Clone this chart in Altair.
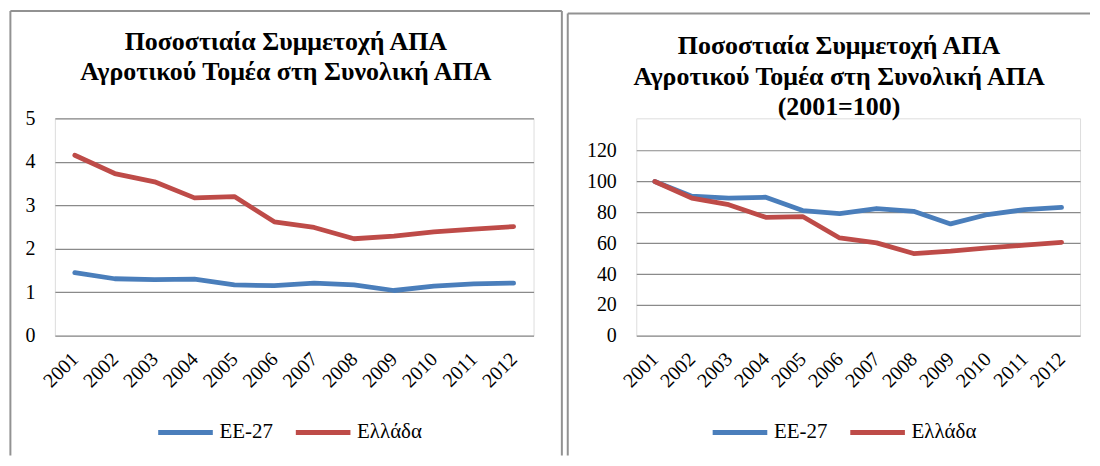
import altair as alt
import pandas as pd

# ---------------- data ----------------
years = ["2001", "2002", "2003", "2004", "2005", "2006",
         "2007", "2008", "2009", "2010", "2011", "2012"]
series_names = ["ΕΕ-27", "Ελλάδα"]
series_colors = ["#4A7EBB", "#BE4B48"]

# left panel: share of agricultural GVA in total GVA (%)
eu_share = [1.45, 1.31, 1.29, 1.30, 1.17, 1.15, 1.21, 1.17, 1.04, 1.14, 1.19, 1.21]
gr_share = [4.15, 3.73, 3.54, 3.17, 3.20, 2.62, 2.49, 2.23, 2.29, 2.39, 2.45, 2.51]

# right panel: same, index 2001=100
eu_index = [100, 90.5, 89.3, 89.8, 81.2, 79.2, 82.5, 80.7, 72.5, 78.6, 81.8, 83.3]
gr_index = [100, 89.3, 85.0, 76.8, 77.3, 63.4, 60.2, 53.3, 54.8, 57.0, 58.7, 60.6]

left_ticks = [0, 1, 2, 3, 4, 5]
right_ticks = [0, 20, 40, 60, 80, 100, 120]

title_left = ["Ποσοστιαία Συμμετοχή ΑΠΑ", "Αγροτικού Τομέα στη Συνολική ΑΠΑ"]
title_right = ["Ποσοστιαία Συμμετοχή ΑΠΑ", "Αγροτικού Τομέα στη Συνολική ΑΠΑ", "(2001=100)"]

FONT = "Liberation Serif"
GRID = "#8A8A8A"
FRAME = "#929292"


def frame_layer(left, top, right, bottom, draw_right):
    base = alt.Chart(alt.Data(values=[{}]))
    rules = [
        base.mark_rule(color=FRAME, strokeWidth=2).encode(
            x=alt.value(left), x2=alt.value(right), y=alt.value(top)),
        base.mark_rule(color=FRAME, strokeWidth=2).encode(
            x=alt.value(left), y=alt.value(top), y2=alt.value(bottom)),
    ]
    if draw_right:
        rules.append(base.mark_rule(color=FRAME, strokeWidth=2).encode(
            x=alt.value(right), y=alt.value(top), y2=alt.value(bottom)))
    return rules


def title_layer(lines, cx, baseline_y):
    return alt.Chart(alt.Data(values=[{}])).mark_text(
        font=FONT, fontSize=26, fontWeight="bold", color="black",
        align="center", baseline="alphabetic", lineHeight=30.5
    ).encode(x=alt.value(cx), y=alt.value(baseline_y), text=alt.value(lines))


def panel(eu_vals, gr_vals, ticks, ymax, width, legend_x, extras):
    df = pd.DataFrame({
        "year": years * 2,
        "series": [series_names[0]] * len(years) + [series_names[1]] * len(years),
        "value": eu_vals + gr_vals,
    })
    lines = alt.Chart(df).mark_line(
        strokeWidth=4.8, strokeCap="round", strokeJoin="round"
    ).encode(
        x=alt.X("year:O", sort=years, title=None,
                scale=alt.Scale(type="point", padding=0.5),
                axis=alt.Axis(labelAngle=-45, labelAlign="right", labelBaseline="middle",
                              labelPadding=20, ticks=False, domain=False, grid=False,
                              labelFont=FONT, labelFontSize=20, labelColor="black")),
        y=alt.Y("value:Q", title=None,
                scale=alt.Scale(domain=[0, ymax], nice=False, zero=True),
                axis=alt.Axis(values=ticks, ticks=False, tickSize=0, domain=False,
                              grid=True, gridColor=GRID, gridWidth=1.2,
                              labelPadding=20, labelFont=FONT, labelFontSize=20,
                              labelColor="black")),
        color=alt.Color("series:N", sort=series_names,
                        scale=alt.Scale(domain=series_names, range=series_colors),
                        legend=alt.Legend(orient="none", legendX=legend_x, legendY=285,
                                          direction="horizontal", title=None,
                                          labelFont=FONT, labelFontSize=21,
                                          labelColor="black", symbolType="stroke",
                                          symbolStrokeWidth=5, symbolSize=3000,
                                          columnPadding=12, labelOffset=4, padding=0)),
    )
    return alt.layer(lines, *extras).properties(width=width, height=218)


left = panel(eu_share, gr_share, left_ticks, 5, 480, 101,
             frame_layer(-44.6, -107.7, 508.4, 338, True)
             + [title_layer(title_left, 231.6, -69)])
right = panel(eu_index, gr_index, right_ticks, 141, 445, 74,
              frame_layer(-68.7, -105.0, 455, 338, False)
              + [title_layer(title_right, 203.3, -64.4)])

chart = alt.hconcat(left, right, spacing=2).resolve_scale(
    color="independent"
).resolve_legend(
    color="independent"
).properties(padding=0).configure_view(
    stroke=None
).configure(background="white")

chart.save("out.html", embed_options={"renderer": "svg", "actions": False})
